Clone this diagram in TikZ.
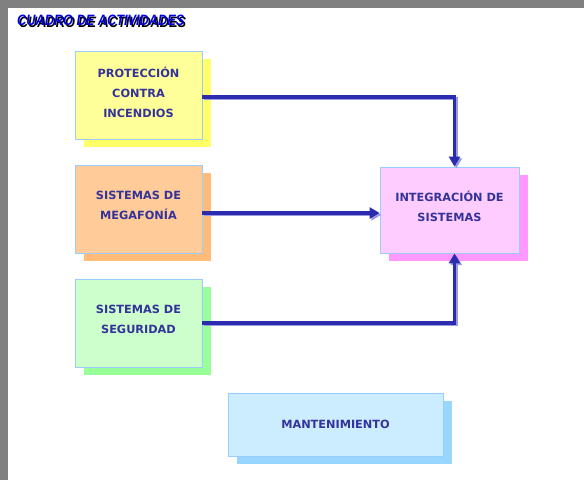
\documentclass[tikz,border=0pt]{standalone}
\usepackage{fontspec}
\setmainfont{DejaVu Sans}
\newfontfamily\titulofont{Liberation Sans}
\usetikzlibrary{positioning, shadows, arrows.meta}
\definecolor{azultexto}{HTML}{333399}
\definecolor{azultitulo}{HTML}{0000DD}
\definecolor{azulflecha}{HTML}{2B2BB0}
\definecolor{azulsombra}{HTML}{9A9AE0}
\definecolor{bordecaja}{HTML}{99CCFF}
\definecolor{grismarco}{HTML}{808080}
\definecolor{amarillo}{HTML}{FFFF99}
\definecolor{amarillosombra}{HTML}{FFFF66}
\definecolor{naranja}{HTML}{FFCC99}
\definecolor{naranjasombra}{HTML}{FFBB77}
\definecolor{verde}{HTML}{CCFFCC}
\definecolor{verdesombra}{HTML}{99FF99}
\definecolor{rosa}{HTML}{FFCCFF}
\definecolor{rosasombra}{HTML}{FF99FF}
\definecolor{celeste}{HTML}{CCECFF}
\definecolor{celestesombra}{HTML}{99D6FF}
\newcommand{\textotitulo}{\scalebox{0.85}[1]{CUADRO DE ACTIVIDADES}}
\newcommand{\titulosombreado}{\makebox[0pt][l]{\kern1.8pt\raisebox{-1.8pt}{\color{black}\textotitulo}}\textotitulo}
\tikzset{
  caja/.style={draw=bordecaja, line width=0.8pt, align=center, text=azultexto,
    font=\bfseries\fontsize{11.3}{20}\selectfont, inner sep=0pt},
  sombra/.style={drop shadow={shadow xshift=9pt, shadow yshift=-8pt, opacity=1, fill=#1}},
  titulo/.style={anchor=west, inner sep=0pt, font=\titulofont\bfseries\itshape\fontsize{15}{17}\selectfont},
  flecha/.style={draw=azulflecha, line width=3.2pt, -{Triangle[length=10pt,width=11pt]}},
  sombraflecha/.style={draw=azulsombra, line width=3.2pt, -{Triangle[length=10pt,width=11pt]},
    transform canvas={xshift=1.8pt, yshift=-1.8pt}},
}
\begin{document}
\begin{tikzpicture}[x=1pt, y=-1pt]
    \useasboundingbox (0,0) rectangle (584,480);
    %marco gris
    \fill[grismarco] (0,0) rectangle (584,8);
    \fill[grismarco] (0,0) rectangle (8,480);
    %titulo
    \node[titulo, text=azultitulo] (titulo) at (17,21) {\titulosombreado};
    %cajas
    \node[caja, fill=amarillo, sombra=amarillosombra, minimum width=127pt, minimum height=88pt, text depth=6pt] (proteccion) at (138.5,95) {PROTECCIÓN\\CONTRA\\INCENDIOS};
    \node[caja, fill=naranja, sombra=naranjasombra, minimum width=127pt, minimum height=88pt, text depth=8pt] (megafonia) at (138.5,209) {SISTEMAS DE\\MEGAFONÍA};
    \node[caja, fill=verde, sombra=verdesombra, minimum width=127pt, minimum height=88pt, text depth=8pt] (seguridad) at (138.5,323) {SISTEMAS DE\\SEGURIDAD};
    \node[caja, fill=rosa, sombra=rosasombra, minimum width=139pt, minimum height=86pt, text depth=8pt] (integracion) at (449.5,210) {INTEGRACIÓN DE\\SISTEMAS};
    \node[caja, fill=celeste, sombra=celestesombra, minimum width=215pt, minimum height=63pt] (mantenimiento) at (335.5,424.5) {MANTENIMIENTO};
    %flechas con sombra
    \draw[sombraflecha] ([yshift=-2pt]proteccion.east) -| ([xshift=5pt]integracion.north);
    \draw[flecha] ([yshift=-2pt]proteccion.east) -| ([xshift=5pt]integracion.north);
    \draw[sombraflecha] ([yshift=-4pt]megafonia.east) -- ([yshift=-4pt]megafonia.east -| integracion.west);
    \draw[flecha] ([yshift=-4pt]megafonia.east) -- ([yshift=-4pt]megafonia.east -| integracion.west);
    \draw[sombraflecha] (seguridad.east) -| ([xshift=5pt]integracion.south);
    \draw[flecha] (seguridad.east) -| ([xshift=5pt]integracion.south);
\end{tikzpicture}
\end{document}
